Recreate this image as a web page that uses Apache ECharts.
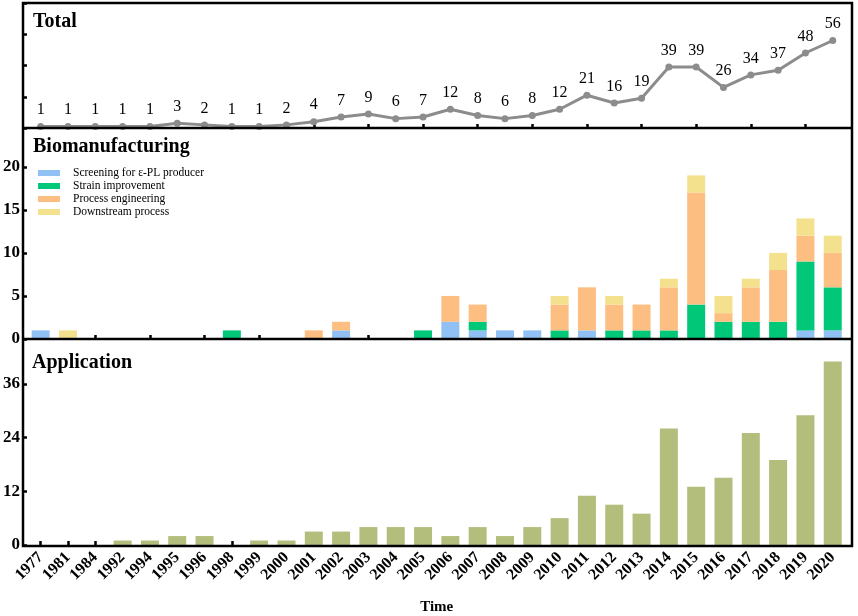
<!DOCTYPE html>
<html><head><meta charset="utf-8">
<script src="https://cdn.jsdelivr.net/npm/echarts@6/dist/echarts.min.js"></script>
<style>html,body{margin:0;padding:0;background:#fff}#c{width:858px;height:616px}</style>
</head><body><div id="c"></div>
<script>
const years = ['1977','1981','1984','1992','1994','1995','1996','1998','1999','2000','2001','2002','2003','2004','2005','2006','2007','2008','2009','2010','2011','2012','2013','2014','2015','2016','2017','2018','2019','2020'];
const totalCounts = [1,1,1,1,1,3,2,1,1,2,4,7,9,6,7,12,8,6,8,12,21,16,19,39,39,26,34,37,48,56];
const screening = [1,0,0,0,0,0,0,0,0,0,0,1,0,0,0,2,1,1,1,0,1,0,0,0,0,0,0,0,1,1];
const strain = [0,0,0,0,0,0,0,1,0,0,0,0,0,0,1,0,1,0,0,1,0,1,1,1,4,2,2,2,8,5];
const processEng = [0,0,0,0,0,0,0,0,0,0,1,1,0,0,0,3,2,0,0,3,5,3,3,5,13,1,4,6,3,4];
const downstream = [0,1,0,0,0,0,0,0,0,0,0,0,0,0,0,0,0,0,0,1,0,1,0,1,2,2,1,2,2,2];
const application = [0,0,0,1,1,2,2,0,1,1,3,3,4,4,4,2,4,2,4,6,11,9,7,26,13,15,25,19,29,41];
const bioNames = ['Screening for ε-PL producer','Strain improvement','Process engineering','Downstream process'];
const panelTitles = ['Total','Biomanufacturing','Application'];

const serif = '"Liberation Serif","DejaVu Serif",serif';
const chart = echarts.init(document.getElementById('c'));
const L = 27, R = 11.6;
const xBase = (gi, showLabels) => ({
  type: 'category', gridIndex: gi, data: years, boundaryGap: true,
  axisLine: {show: false},
  axisTick: {show: true, inside: true, length: 4, alignWithLabel: true, lineStyle: {color: '#000', width: 2.5}},
  axisLabel: showLabels ? {show: true, interval: 0, rotate: 45, margin: 10, fontFamily: serif, fontWeight: 'bold', fontSize: 16, color: '#000'} : {show: false},
  splitLine: {show: false}
});
const yBase = (gi, max, interval, showLabels) => ({
  type: 'value', gridIndex: gi, min: 0, max: max, interval: interval, offset: 4,
  axisLine: {show: false},
  axisTick: {show: true, inside: true, length: 4, lineStyle: {color: '#000', width: 2.5}},
  axisLabel: showLabels ? {show: true, margin: 3, showMaxLabel: false, fontFamily: serif, fontWeight: 'bold', fontSize: 17, color: '#000'} : {show: false},
  splitLine: {show: false}
});
const colors = ['#91c0f5', '#00c878', '#fdbe82', '#f4e18e'];
const bioData = [screening, strain, processEng, downstream];

const option = {
  animation: false,
  textStyle: {fontFamily: serif},
  title: panelTitles.map((t, i) => ({
    text: t, left: [33, 33, 32][i], top: [12, 137, 353][i], padding: 0,
    textStyle: {fontFamily: serif, fontWeight: 'bold', fontSize: 20, color: '#000'}
  })),
  legend: {
    data: bioNames, orient: 'vertical', left: 38, top: 167, padding: 0,
    itemWidth: 22, itemHeight: 6, itemGap: 1, icon: 'rect',
    textStyle: {fontFamily: serif, fontSize: 11.5, color: '#000', lineHeight: 12, padding: [0, 0, 0, 8]}
  },
  grid: [
    {left: L, right: R, top: 3, height: 125},
    {left: L, right: R, top: 128, height: 211},
    {left: L, right: R, top: 339, height: 207}
  ],
  xAxis: [
    xBase(0, false), xBase(1, false),
    Object.assign(xBase(2, true), {name: 'Time', nameLocation: 'middle', nameGap: 55,
      nameTextStyle: {fontFamily: serif, fontWeight: 'bold', fontSize: 15, color: '#000'}})
  ],
  yAxis: [
    yBase(0, 80, 20, false),
    yBase(1, 24.5, 5, true),
    yBase(2, 46, 12, true)
  ],
  series: [
    {type: 'line', xAxisIndex: 0, yAxisIndex: 0, data: totalCounts,
      symbol: 'circle', symbolSize: 7,
      lineStyle: {color: '#8c8c8c', width: 3}, itemStyle: {color: '#8c8c8c'},
      label: {show: true, position: 'top', distance: 5, fontFamily: serif, fontSize: 16, color: '#000'}}
  ].concat(bioData.map((d, i) => ({
    type: 'bar', name: bioNames[i], xAxisIndex: 1, yAxisIndex: 1, stack: 'bio',
    data: d, barWidth: 18, itemStyle: {color: colors[i]}
  }))).concat([
    {type: 'bar', xAxisIndex: 2, yAxisIndex: 2, data: application, barWidth: 18, itemStyle: {color: '#b3be7c'}}
  ]),
  graphic: [
    {type: 'rect', z: 100, shape: {x: 23, y: 3, width: 829, height: 543}, style: {fill: null, stroke: '#000', lineWidth: 2.5}},
    {type: 'line', z: 100, shape: {x1: 23, y1: 128, x2: 852, y2: 128}, style: {stroke: '#000', lineWidth: 2.5}},
    {type: 'line', z: 100, shape: {x1: 23, y1: 339, x2: 852, y2: 339}, style: {stroke: '#000', lineWidth: 2.5}}
  ]
};
chart.setOption(option);
</script></body></html>
